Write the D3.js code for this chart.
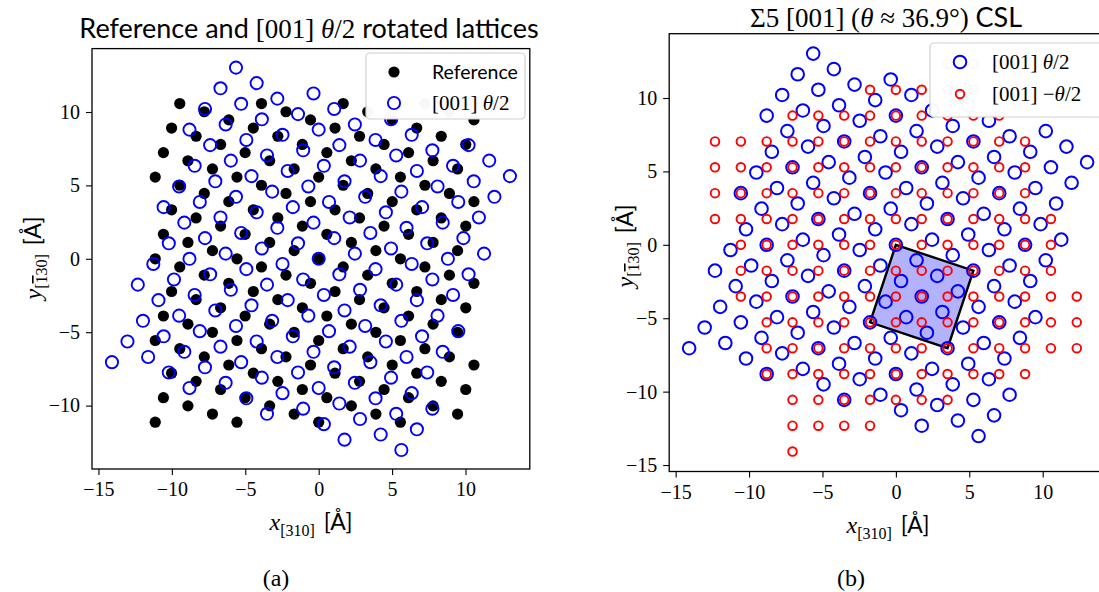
<!DOCTYPE html>
<html>
<head>
<meta charset="utf-8">
<script src="https://cdn.jsdelivr.net/npm/d3@7"></script>
<style>
  body { margin: 0; background: #fff; }
  svg { display: block; }
</style>
</head>
<body>
<svg id="chart" width="1099" height="592"></svg>
<script>
// grid step of the reference sites along [310] / [-130] (Å)
var refUnit = 0.5566;

// reference lattice, one row per y index (v), x indices (u) present in that row
var refRowV = [19, 18, 17, 16, 15, 14, 13, 12, 11, 10,
               9, 8, 7, 6, 5, 4, 3, 2, 1, 0,
               -1, -2, -3, -4, -5, -6, -7, -8, -9, -10,
               -11, -12, -13, -14, -15, -16, -17, -18, -19, -20];
var refRowU = [
  [-17, -7, 3, 13], [-14, -4, 6, 16], [-11, -1, 9, 19], [-18, -8, 2, 12], [-15, -5, 5, 15],
  [-12, -2, 8, 18], [-19, -9, 1, 11], [-16, -6, 4, 14], [-13, -3, 7, 17], [-20, -10, 0, 10],
  [-17, -7, 3, 13], [-14, -4, 6, 16], [-11, -1, 9, 19], [-18, -8, 2, 12], [-15, -5, 5, 15],
  [-12, -2, 8, 18], [-19, -9, 1, 11], [-16, -6, 4, 14], [-13, -3, 7, 17], [-20, -10, 0, 10],
  [-17, -7, 3, 13], [-14, -4, 6, 16], [-11, -1, 9, 19], [-18, -8, 2, 12], [-15, -5, 5, 15],
  [-12, -2, 8, 18], [-19, -9, 1, 11], [-16, -6, 4, 14], [-13, -3, 7, 17], [-20, -10, 0, 10],
  [-17, -7, 3, 13], [-14, -4, 6, 16], [-11, -1, 9, 19], [-18, -8, 2, 12], [-15, -5, 5, 15],
  [-12, -2, 8, 18], [-19, -9, 1, 11], [-16, -6, 4, 14], [-13, -3, 7, 17], [-20, -10, 0, 10]
];

// misorientation of the Sigma5 boundary (deg); each grain is turned by half of it
var thetaDeg = 36.87;

// CSL unit cell corners (Å)
var cslCell = [[0, 0], [5.28, -1.76], [3.52, -7.04], [-1.76, -5.28]];

var xTicks = [-15, -10, -5, 0, 5, 10];
var yTicksA = [-10, -5, 0, 5, 10];
var yTicksB = [-15, -10, -5, 0, 5, 10];

var SANS = "Lato, 'Open Sans', sans-serif";
var SERIF = "'Liberation Serif', 'DejaVu Serif', serif";

var svg = d3.select("#chart");

// build the site list of the reference crystal
var reference = [];
refRowV.forEach(function(v, k) {
  refRowU[k].forEach(function(u) {
    reference.push([u * refUnit, v * refUnit]);
  });
});

function rotate(points, deg) {
  var a = deg * Math.PI / 180, c = Math.cos(a), s = Math.sin(a);
  return points.map(function(p) {
    return [p[0] * c - p[1] * s, p[0] * s + p[1] * c];
  });
}

var plusHalf = rotate(reference, -thetaDeg / 2);   // [001] theta/2
var minusHalf = rotate(reference, thetaDeg / 2);   // [001] -theta/2

function fmt(d) {
  return d < 0 ? "\u2212" + Math.abs(d) : String(d);
}

// sets up one axes box, returns scales + group
function makePanel(opt) {
  var g = svg.append("g");
  var x = d3.scaleLinear().domain(opt.xDomain).range(opt.xRange);
  var y = d3.scaleLinear().domain(opt.yDomain).range(opt.yRange);

  var xAxis = g.append("g")
    .attr("transform", "translate(0," + opt.yRange[0] + ")")
    .call(d3.axisBottom(x).tickValues(opt.xTicks).tickSize(6).tickPadding(7).tickFormat(fmt));
  var yAxis = g.append("g")
    .attr("transform", "translate(" + opt.xRange[0] + ",0)")
    .call(d3.axisLeft(y).tickValues(opt.yTicks).tickSize(6).tickPadding(6).tickFormat(fmt));

  [xAxis, yAxis].forEach(function(ax) {
    ax.select(".domain").remove();
    ax.selectAll("line").attr("stroke", "#000").attr("stroke-width", 1.1);
    ax.selectAll("text")
      .attr("fill", "#000")
      .style("font-family", SERIF)
      .style("font-size", "20px");
  });

  g.append("rect")
    .attr("x", opt.xRange[0])
    .attr("y", opt.yRange[1])
    .attr("width", opt.xRange[1] - opt.xRange[0])
    .attr("height", opt.yRange[0] - opt.yRange[1])
    .attr("fill", "none")
    .attr("stroke", "#000")
    .attr("stroke-width", 1.3);

  var plot = g.append("g");
  return { g: g, x: x, y: y, plot: plot };
}

function scatter(panel, data, r, fill, stroke, sw) {
  panel.plot.append("g").selectAll("circle")
    .data(data)
    .enter().append("circle")
    .attr("cx", function(d) { return panel.x(d[0]); })
    .attr("cy", function(d) { return panel.y(d[1]); })
    .attr("r", r)
    .attr("fill", fill)
    .attr("stroke", stroke)
    .attr("stroke-width", sw);
}

// mixed-font text helper: parts = [text, font, italic, dy, size, overline]
function mixedText(parent, x, y, size, parts, anchor) {
  var t = parent.append("text")
    .attr("x", x)
    .attr("y", y)
    .attr("text-anchor", anchor || "middle")
    .style("font-size", size + "px")
    .attr("fill", "#000");
  parts.forEach(function(p) {
    var ts = t.append("tspan")
      .text(p[0])
      .style("font-family", p[1])
      .style("font-style", p[2] ? "italic" : "normal");
    if (p[3]) ts.attr("dy", p[3]);
    if (p[4]) ts.style("font-size", p[4] + "px");
    if (p[5]) ts.style("text-decoration", "overline");
  });
  return t;
}

function xLabel(parent, x, y) {
  mixedText(parent, x, y, 24, [
    ["x", SERIF, true],
    ["[310]", SERIF, false, 6, 16],
    ["\u2009 [\u00c5]", SANS, false, -6, 23]
  ]);
}

function yLabel(parent, x, y) {
  var t = mixedText(parent, 0, 0, 24, [
    ["y", SERIF, true],
    ["[", SERIF, false, 6, 16],
    ["1", SERIF, false, 0, 16, true],
    ["30]", SERIF, false, 0, 16],
    ["\u2009 [\u00c5]", SANS, false, -6, 23]
  ]);
  t.attr("transform", "translate(" + x + "," + y + ") rotate(-90)");
}

function legendBox(parent, x, y, w, h) {
  parent.append("rect")
    .attr("x", x).attr("y", y)
    .attr("width", w).attr("height", h)
    .attr("rx", 4)
    .attr("fill", "#fff")
    .attr("fill-opacity", 0.97)
    .attr("stroke", "#d0d0d0")
    .attr("stroke-width", 1.2);
}

/* ---------- panel (a) ---------- */
var pa = makePanel({
  xDomain: [-15.44, 14.38], xRange: [92, 529.8],
  yDomain: [-14.32, 14.32], yRange: [469, 48.6],
  xTicks: xTicks, yTicks: yTicksA
});

scatter(pa, reference, 5.6, "#000", "none", 0);
scatter(pa, plusHalf, 6.1, "none", "#0000ff", 1.9);

mixedText(svg, 309, 38, 27, [
  ["Reference and ", SANS, false],
  ["[001] ", SERIF, false],
  ["\u03b8", SERIF, true],
  ["/2", SERIF, false],
  [" rotated lattices", SANS, false]
]);
xLabel(svg, 311, 530);
yLabel(svg, 41, 258);

var legA = svg.append("g");
legendBox(legA, 366, 53, 159, 66);
legA.append("circle").attr("cx", 394).attr("cy", 72).attr("r", 5.6).attr("fill", "#000");
legA.append("circle").attr("cx", 394).attr("cy", 103).attr("r", 6.1)
  .attr("fill", "none").attr("stroke", "#0000ff").attr("stroke-width", 1.9);
mixedText(legA, 432, 79, 19.5, [["Reference", SANS, false]], "start");
mixedText(legA, 432, 110, 21, [["[001] ", SERIF, false], ["\u03b8", SERIF, true], ["/2", SERIF, false]], "start");

/* ---------- panel (b) ---------- */
var pb = makePanel({
  xDomain: [-15.44, 14.38], xRange: [669.2, 1107],
  yDomain: [-15.44, 14.38], yRange: [471.5, 33.7],
  xTicks: xTicks, yTicks: yTicksB
});

pb.plot.append("polygon")
  .attr("points", cslCell.map(function(p) { return pb.x(p[0]) + "," + pb.y(p[1]); }).join(" "))
  .attr("fill", "#0000ff")
  .attr("fill-opacity", 0.3)
  .attr("stroke", "#000")
  .attr("stroke-width", 2.4);

scatter(pb, plusHalf, 6.3, "none", "#0000ff", 2);
scatter(pb, minusHalf, 4.3, "none", "#ff0000", 1.9);

mixedText(svg, 886, 27, 27, [
  ["\u03a35 [001] (", SERIF, false],
  ["\u03b8", SERIF, true],
  [" \u2248 36.9\u00b0) ", SERIF, false],
  ["CSL", SANS, false]
]);
xLabel(svg, 888, 533);
yLabel(svg, 633, 246);

var legB = svg.append("g");
legendBox(legB, 930, 43, 180, 74);
legB.append("circle").attr("cx", 960).attr("cy", 62).attr("r", 6.3)
  .attr("fill", "none").attr("stroke", "#0000ff").attr("stroke-width", 2);
legB.append("circle").attr("cx", 960).attr("cy", 94).attr("r", 4.3)
  .attr("fill", "none").attr("stroke", "#ff0000").attr("stroke-width", 1.9);
mixedText(legB, 992, 69, 21, [["[001] ", SERIF, false], ["\u03b8", SERIF, true], ["/2", SERIF, false]], "start");
mixedText(legB, 992, 101, 21, [["[001] \u2212", SERIF, false], ["\u03b8", SERIF, true], ["/2", SERIF, false]], "start");

/* ---------- captions ---------- */
svg.append("text").attr("x", 276).attr("y", 586).attr("text-anchor", "middle")
  .style("font-family", SERIF).style("font-size", "24px").text("(a)");
svg.append("text").attr("x", 851).attr("y", 586).attr("text-anchor", "middle")
  .style("font-family", SERIF).style("font-size", "24px").text("(b)");
</script>
</body>
</html>
